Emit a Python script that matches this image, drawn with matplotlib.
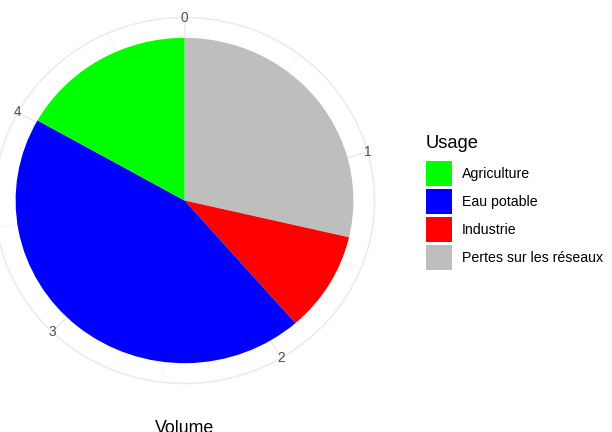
import numpy as np
import matplotlib
matplotlib.use("Agg")
import matplotlib.pyplot as plt
from matplotlib.patches import Patch

# ---- data ----
usages = ["Agriculture", "Eau potable", "Industrie", "Pertes sur les réseaux"]
volumes = [0.81, 2.15, 0.48, 1.38]
colors = ["#00FF00", "#0000FF", "#FF0000", "#BEBEBE"]
tick_values = [0, 1, 2, 3, 4]
minor_values = [0.5, 1.5, 2.5, 3.5, 4.5]
legend_title = "Usage"
axis_title = "Volume"

plt.rcParams["font.family"] = ["Liberation Sans", "DejaVu Sans"]

W, H = 612, 432
fig = plt.figure(figsize=(W / 100, H / 100), dpi=100)

# polar panel (center ~ (184.5, 200.5) px, outer radii 190 x 183 px)
cx, cy, rx, ry = 184.5, 200.5, 190.0, 183.0
ax = fig.add_axes([(cx - rx) / W, 1 - (cy + ry) / H, 2 * rx / W, 2 * ry / H],
                  projection="polar")
ax.set_aspect("auto")
ax.set_theta_zero_location("N")
ax.set_theta_direction(-1)

total = sum(volumes)
scale = 2 * np.pi / total

# ggplot stacks in reverse level order: last level starts at 0
order = list(range(len(usages)))[::-1]
start = 0.0
for i in order:
    v = volumes[i]
    ax.bar((start + v / 2) * scale, 0.4, width=v * scale, bottom=0.0,
           color=colors[i], edgecolor="none", linewidth=0, zorder=2)
    start += v

ax.set_ylim(0, 0.45)
ax.set_yticks([])
ax.set_xticks([t * scale for t in tick_values])
ax.set_xticks([t * scale for t in minor_values], minor=True)
ax.set_xticklabels([])
ax.tick_params(axis="x", which="both", length=0)
ax.xaxis.grid(True, which="major", color="#EBEBEB", linewidth=1.1)
ax.xaxis.grid(True, which="minor", color="#F2F2F2", linewidth=0.6)
ax.set_axisbelow(True)
ax.spines["polar"].set_color("#EBEBEB")
ax.spines["polar"].set_linewidth(1.1)
ax.set_facecolor("white")

for t in tick_values:
    ax.text(t * scale, 0.45, str(t), ha="center", va="center",
            fontsize=9.8, color="#4D4D4D", zorder=3)

fig.text(185 / W, 1 - 433.3 / H, axis_title, ha="center", va="baseline",
         fontsize=12.8, color="black")

handles = [Patch(facecolor=c, edgecolor="none") for c in colors]
leg = fig.legend(handles, usages, title=legend_title, loc="upper left",
                 bbox_to_anchor=(425.5 / W, 1 - 135.0 / H), frameon=False,
                 fontsize=10.2, title_fontsize=13.2, handlelength=1.84,
                 handleheight=2.34, labelspacing=0.21, handletextpad=0.74,
                 borderpad=0, borderaxespad=0, alignment="left")
leg._legend_box.sep = 6.5

fig.savefig("out.png", dpi=100, facecolor="white")
